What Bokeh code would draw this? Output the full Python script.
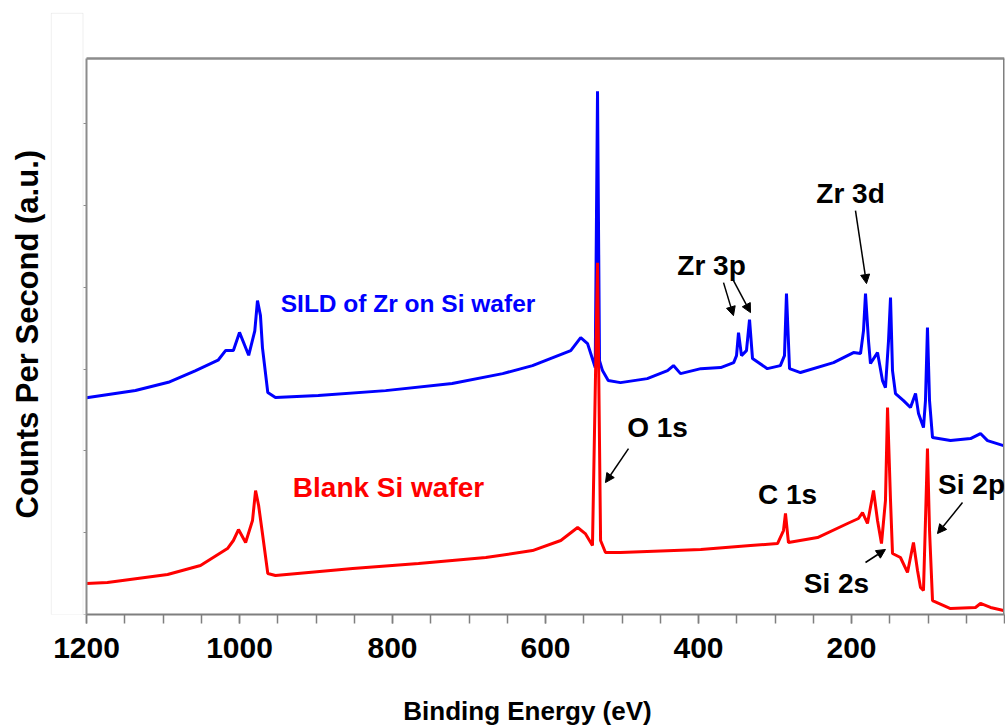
from bokeh.plotting import figure
from bokeh.models import (Range1d, FixedTicker, Label, Arrow, NormalHead, LinearAxis,
                          BoxAnnotation, Title)
from bokeh.embed import file_html
from bokeh.resources import INLINE

# ---- data (binding energy in eV, counts in arbitrary units) ----
zr_energy = [1200, 1136, 1093, 1058, 1028, 1018, 1008, 1000, 988, 980, 976.5, 972.6, 970, 963,
             953, 897, 809, 722, 656, 617, 567, 554, 545, 535, 532, 529.4, 525.5, 518, 502,
             467, 440.5, 432.7, 423.5, 397, 371, 354, 350.3, 347.7, 343.8, 337.3, 333.3, 329.4,
             310, 293, 287.6, 285, 281, 266.7, 223.5, 197.4, 188.2, 184.3, 181.7, 177.8, 175.2,
             166, 159.5, 155.6, 151.6, 149, 146.4, 142.5, 132, 122.9, 116.3, 112.4, 105.9,
             103.3, 100.7, 98, 94.1, 70.6, 44.4, 31.4, 22.2, 1.3]
zr_counts = [26500, 27400, 28400, 29800, 31100, 32300, 32300, 34500, 31700, 34700, 38400, 36550,
             32640, 27140, 26530, 26770, 27380, 28240, 29460, 30440, 32270, 33860, 33130, 30200,
             64000, 31050, 29830, 28610, 28360, 28850, 29830, 30440, 29460, 30070, 30200, 30810,
             31660, 34480, 31660, 32270, 36060, 31300, 30070, 30440, 31660, 39240, 30070, 29590,
             30810, 32030, 31910, 34720, 39240, 33500, 30690, 32030, 28610, 27750, 33500, 38750,
             29830, 27020, 26160, 25310, 27020, 24570, 22860, 26160, 35090, 26160, 21640, 21270,
             21520, 22130, 21270, 20660]

si_energy = [1200, 1172.6, 1094, 1051, 1015.7, 1008, 1001.3, 992, 983, 979, 975, 970, 963, 953,
             852, 766, 678, 617, 580, 558, 548, 538.6, 532, 528, 521.6, 502, 397, 332, 296.7,
             288.9, 286.3, 282.4, 244.4, 205.2, 190.9, 185.6, 179.1, 171.2, 166, 160.8, 155.6,
             152.9, 149, 146.4, 136, 126.8, 119, 113.7, 109.8, 105.9, 103.3, 100.7, 98, 94.1,
             70.6, 37.9, 31.4, 18.3, 1.3]
si_counts = [3790, 3910, 4890, 5990, 8070, 9050, 10390, 8800, 11490, 15160, 13330, 9900, 5010,
             4770, 5620, 6240, 6970, 7820, 9050, 10640, 9900, 8440, 43030, 9050, 7580, 7580, 7950,
             8440, 8680, 10270, 12350, 8800, 9410, 11130, 11740, 12470, 11130, 15160, 11490, 8680,
             13940, 25310, 13940, 7460, 6970, 5140, 8800, 5380, 3300, 2930, 11490, 20290, 10270,
             1710, 730, 860, 1350, 860, 490]

x_major = [1200, 1000, 800, 600, 400, 200]
x_minor = list(range(0, 1201, 50))
y_ticks = [0, 10000, 20000, 30000, 40000, 50000, 60000]
E_MIN, E_MAX = 0, 1200          # plotted energy span
C_MIN, C_MAX = 0, 68000         # plotted counts span

# annotation labels: (text, energy, counts)
peak_labels = [("O 1s", 453.6, 22860), ("Zr 3p", 383.0, 42660), ("Zr 3d", 201.3, 51470),
               ("C 1s", 283.7, 14670), ("Si 2p", 43.1, 15890), ("Si 2s", 219.6, 3790)]
# arrows: (x_start, y_start, x_end, y_end)
arrows = [(491.5, 20290, 521.6, 16140), (367.3, 40590, 354.3, 36550), (355.6, 41080, 332.0, 36920),
          (194.8, 49390, 180.4, 40470), (54.9, 13690, 87.6, 9900), (181.7, 6360, 155.6, 7950)]

FONT = "Liberation Sans"
GREY = "#8c8c8c"

# frame spans x 50..1004 px and y 12..614 px; data area starts at x=86 px and tops at y=58 px
PX_PER_EV = 918 / (E_MAX - E_MIN)
CNT_PER_PX = (C_MAX - C_MIN) / 556
x_left = E_MAX + 36 / PX_PER_EV
y_top = C_MAX + 46 * CNT_PER_PX

p = figure(width=1005, height=728, output_backend="svg", toolbar_location=None,
           x_range=Range1d(x_left, E_MIN), y_range=Range1d(C_MIN, y_top),
           min_border_left=50, min_border_right=1, min_border_top=12, min_border_bottom=114)
p.background_fill_color = "white"
p.border_fill_color = "white"
p.outline_line_color = None
p.xgrid.visible = False
p.ygrid.visible = False

# bottom axis
xa = p.xaxis[0]
xa.bounds = (E_MIN, E_MAX)
xa.ticker = FixedTicker(ticks=x_major, minor_ticks=x_minor)
xa.axis_line_color = "#7f7f7f"
xa.axis_line_width = 2
xa.major_tick_line_color = "#7f7f7f"
xa.minor_tick_line_color = "#7f7f7f"
xa.major_tick_in = 0
xa.major_tick_out = 9
xa.minor_tick_in = 0
xa.minor_tick_out = 9
xa.major_tick_line_width = 1.5
xa.minor_tick_line_width = 1.5
xa.major_label_text_font = FONT
xa.major_label_text_font_style = "bold"
xa.major_label_text_font_size = "30px"
xa.major_label_text_color = "black"
xa.major_label_standoff = 14
xa.axis_label = "Binding Energy (eV)"
xa.axis_label_text_font = FONT
xa.axis_label_text_font_style = "bold"
xa.axis_label_text_font_size = "26px"
xa.axis_label_text_color = "black"
xa.axis_label_standoff = 35

# hide the default left axis; the y title is a left-side title
p.yaxis[0].visible = False
p.add_layout(Title(text="Counts Per Second (a.u.)", align="left", offset=96, standoff=11,
                   text_font=FONT, text_font_style="bold", text_font_size="31px",
                   text_color="black"), "left")

# real y axis, at the start of the energy scale
y_axis = LinearAxis(fixed_location=E_MAX, bounds=(C_MIN, C_MAX),
                    ticker=FixedTicker(ticks=y_ticks, minor_ticks=[]),
                    major_label_overrides={t: "" for t in y_ticks},
                    axis_line_color=GREY, axis_line_width=2, major_tick_line_color=GREY,
                    major_tick_in=0, major_tick_out=3, minor_tick_out=0)
p.add_layout(y_axis, "left")
# top and right frame lines
top_axis = LinearAxis(fixed_location=C_MAX, bounds=(E_MIN, E_MAX),
                      ticker=FixedTicker(ticks=[], minor_ticks=[]),
                      axis_line_color=GREY, axis_line_width=2.5)
p.add_layout(top_axis, "above")
right_axis = LinearAxis(fixed_location=E_MIN, bounds=(C_MIN, C_MAX),
                        ticker=FixedTicker(ticks=[], minor_ticks=[]),
                        axis_line_color="#7f7f7f", axis_line_width=3)
p.add_layout(right_axis, "right")

# thin grey box left of the y axis (page decoration in the original)
p.add_layout(BoxAnnotation(left=x_left - 0.7 / PX_PER_EV, right=E_MAX + 3.5 / PX_PER_EV,
                           top=y_top - 0.7 * CNT_PER_PX, bottom=C_MIN,
                           fill_alpha=0, line_color="#c8c8c8", line_width=1))

p.line(zr_energy, zr_counts, line_color="#0000ff", line_width=3)
p.line(si_energy, si_counts, line_color="#ff0000", line_width=3)

p.add_layout(Label(x=779.7, y=38020, text="SILD of Zr on Si wafer", text_align="center",
                   text_baseline="middle", text_font=FONT, text_font_style="bold",
                   text_font_size="24.5px", text_color="#0000ff"))
p.add_layout(Label(x=805.2, y=15530, text="Blank Si wafer", text_align="center",
                   text_baseline="middle", text_font=FONT, text_font_style="bold",
                   text_font_size="28px", text_color="#ff0000"))
for t, xx, yy in peak_labels:
    p.add_layout(Label(x=xx, y=yy, text=t, text_align="center", text_baseline="middle",
                       text_font=FONT, text_font_style="bold", text_font_size="28px",
                       text_color="black"))
for xs, ys, xe, ye in arrows:
    p.add_layout(Arrow(x_start=xs, y_start=ys, x_end=xe, y_end=ye, line_color="black",
                       line_width=1.5,
                       end=NormalHead(size=9, fill_color="black", line_color="black")))

open("out.html", "w").write(file_html(p, INLINE))
